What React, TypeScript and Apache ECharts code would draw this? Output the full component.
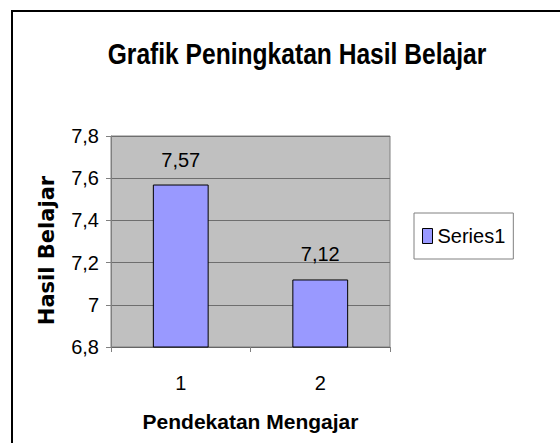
import React, { useEffect, useRef } from "react";
import * as echarts from "echarts";

const categories = ["1", "2"];
const seriesValues = [7.57, 7.12];
const seriesName = "Series1";
const yMin = 6.8;
const yMax = 7.8;
const yInterval = 0.2;
const titleText = "Grafik Peningkatan Hasil Belajar";
const xAxisName = "Pendekatan Mengajar";
const yAxisName = "Hasil Belajar";

const SANS = "'Liberation Sans', Arial, sans-serif";

const fmt = (v: number) => String(Math.round(v * 100) / 100).replace(".", ",");

export default function App() {
  const ref = useRef<HTMLDivElement>(null);
  useEffect(() => {
    document.body.style.margin = "0";
    if (!ref.current) return;
    const chart = echarts.init(ref.current, null, { renderer: "svg" });
    chart.setOption({
      animation: false,
      backgroundColor: "#ffffff",
      graphic: [
        {
          type: "rect",
          shape: { x: 12, y: 11, width: 600, height: 500 },
          style: { fill: "none", stroke: "#000", lineWidth: 2 },
          silent: true,
        },
        {
          type: "text",
          x: 297,
          y: 54,
          scaleX: 0.82,
          style: {
            text: titleText,
            fontFamily: SANS,
            fontWeight: "bold",
            fontSize: 30,
            fill: "#000",
            textAlign: "center",
            textVerticalAlign: "middle",
          },
        },
      ],
      legend: {
        orient: "vertical",
        left: 414,
        top: 213,
        padding: [13, 8, 13, 8],
        borderColor: "#808080",
        borderWidth: 1,
        icon: "rect",
        itemWidth: 10,
        itemHeight: 15,
        itemGap: 4,
        textStyle: { fontFamily: SANS, fontSize: 20, color: "#000" },
        data: [{ name: seriesName, itemStyle: { color: "#9999ff", borderColor: "#000", borderWidth: 1 } }],
      },
      grid: {
        left: 111,
        right: 170,
        top: 136,
        bottom: 96,
        show: true,
        backgroundColor: "#c0c0c0",
        borderColor: "#808080",
        borderWidth: 1,
        containLabel: false,
      },
      xAxis: {
        type: "category",
        data: categories,
        boundaryGap: true,
        name: xAxisName,
        nameLocation: "middle",
        nameGap: 64,
        nameTextStyle: { fontFamily: SANS, fontWeight: "bold", fontSize: 21, color: "#000" },
        axisLine: { show: true, lineStyle: { color: "#666666", width: 1 } },
        axisTick: { show: true, alignWithLabel: false, length: 5, lineStyle: { color: "#808080" } },
        axisLabel: { fontFamily: SANS, fontSize: 20, color: "#000", margin: 26 },
        splitLine: { show: false },
      },
      yAxis: {
        type: "value",
        min: yMin,
        max: yMax,
        interval: yInterval,
        name: yAxisName,
        nameLocation: "middle",
        nameRotate: 90,
        nameGap: 54,
        nameTextStyle: {
          fontFamily: "'DejaVu Sans', sans-serif",
          fontWeight: "bold",
          fontSize: 21,
          color: "#000",
          padding: [0, 18, 0, 0],
        },
        axisLine: { show: true, lineStyle: { color: "#808080", width: 1 } },
        axisTick: { show: true, length: 5, lineStyle: { color: "#808080" } },
        axisLabel: { fontFamily: SANS, fontSize: 20, color: "#000", margin: 12, formatter: (v: number) => fmt(v) },
        splitLine: { show: true, lineStyle: { color: "#6e6e6e", width: 1 } },
      },
      series: [
        {
          name: seriesName,
          type: "bar",
          data: seriesValues,
          barWidth: "40%",
          itemStyle: { color: "#9999ff", borderColor: "#000", borderWidth: 1 },
          label: {
            show: true,
            position: "top",
            distance: 15,
            fontFamily: SANS,
            fontSize: 20,
            color: "#000",
            formatter: (p: any) => fmt(p.value),
          },
        },
      ],
    });
    return () => chart.dispose();
  }, []);
  return <div ref={ref} style={{ width: 560, height: 443 }} />;
}
